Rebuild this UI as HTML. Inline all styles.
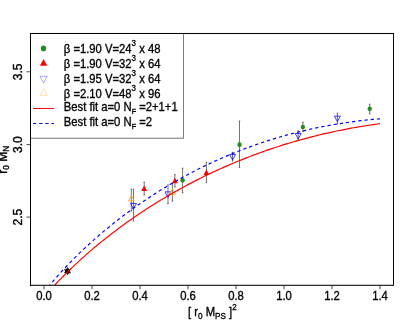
<!DOCTYPE html>
<html><head><meta charset="utf-8"><style>
html,body{margin:0;padding:0;background:#fff;}
svg{display:block;}
text{font-family:"Liberation Sans",sans-serif;font-size:12px;fill:#000;stroke:#000;stroke-width:0.33px;filter:grayscale(1);}
.ax line,.ax rect{stroke:#000;stroke-width:1.05;fill:none;}
.tk line{stroke:#222;stroke-width:0.85;}
.rt{stroke-width:0.38px;}
</style></head><body>
<svg width="409" height="327" viewBox="0 0 409 327">
<rect width="409" height="327" fill="#fff"/>
<defs><clipPath id="c"><rect x="32.52" y="33.5" width="386.99" height="251.8"/></clipPath></defs>
<g transform="scale(0.938,1)">
<g clip-path="url(#c)">
<path d="M139.98,189.2V211M139.18,189.2h1.6M139.18,211h1.6" stroke="#222" stroke-width="0.65" fill="none"/>
<path d="M142.32,189.2V220.8M141.52,189.2h1.6M141.52,220.8h1.6" stroke="#222" stroke-width="0.65" fill="none"/>
<path d="M153.73,182.1V195.0M152.93,182.1h1.6M152.93,195.0h1.6" stroke="#222" stroke-width="0.65" fill="none"/>
<path d="M179.10,184.9V203.6M178.30,184.9h1.6M178.30,203.6h1.6" stroke="#222" stroke-width="0.65" fill="none"/>
<path d="M183.80,183.0V201.1M183.00,183.0h1.6M183.00,201.1h1.6" stroke="#222" stroke-width="0.65" fill="none"/>
<path d="M186.46,174.6V187M185.66,174.6h1.6M185.66,187h1.6" stroke="#222" stroke-width="0.65" fill="none"/>
<path d="M194.67,168.2V192.8M193.87,168.2h1.6M193.87,192.8h1.6" stroke="#222" stroke-width="0.65" fill="none"/>
<path d="M220.04,162.1V182.6M219.24,162.1h1.6M219.24,182.6h1.6" stroke="#222" stroke-width="0.65" fill="none"/>
<path d="M247.87,152.3V161.1M247.07,152.3h1.6M247.07,161.1h1.6" stroke="#222" stroke-width="0.65" fill="none"/>
<path d="M255.33,121V167.4M254.53,121h1.6M254.53,167.4h1.6" stroke="#222" stroke-width="0.65" fill="none"/>
<path d="M317.91,130.9V139.9M317.11,130.9h1.6M317.11,139.9h1.6" stroke="#222" stroke-width="0.65" fill="none"/>
<path d="M322.92,122.1V131.7M322.12,122.1h1.6M322.12,131.7h1.6" stroke="#222" stroke-width="0.65" fill="none"/>
<path d="M359.70,113.2V123.8M358.90,113.2h1.6M358.90,123.8h1.6" stroke="#222" stroke-width="0.65" fill="none"/>
<path d="M394.14,104.2V113.8M393.34,104.2h1.6M393.34,113.8h1.6" stroke="#222" stroke-width="0.65" fill="none"/>
<polygon points="139.98,195.47 136.83,200.93 143.13,200.93" fill="none" stroke="#ffa500" stroke-width="0.8"/>
<polygon points="142.32,208.83 139.17,203.37 145.47,203.37" fill="none" stroke="#0000ff" stroke-width="0.8"/>
<polygon points="153.73,185.47 150.58,190.93 156.88,190.93" fill="#ff0000"/>
<polygon points="179.10,197.33 175.95,191.87 182.25,191.87" fill="none" stroke="#0000ff" stroke-width="0.8"/>
<polygon points="183.80,188.97 180.65,194.43 186.95,194.43" fill="none" stroke="#ffa500" stroke-width="0.8"/>
<polygon points="186.46,177.67 183.31,183.13 189.61,183.13" fill="#ff0000"/>
<circle cx="194.67" cy="180.3" r="2.34" fill="#228B22"/>
<polygon points="220.04,169.57 216.89,175.03 223.19,175.03" fill="#ff0000"/>
<polygon points="247.87,159.93 244.72,154.47 251.02,154.47" fill="none" stroke="#0000ff" stroke-width="0.8"/>
<circle cx="255.33" cy="144.7" r="2.34" fill="#228B22"/>
<polygon points="317.91,138.93 314.76,133.47 321.06,133.47" fill="none" stroke="#0000ff" stroke-width="0.8"/>
<circle cx="322.92" cy="127.0" r="2.34" fill="#228B22"/>
<polygon points="359.70,121.63 356.55,116.17 362.85,116.17" fill="none" stroke="#0000ff" stroke-width="0.8"/>
<circle cx="394.14" cy="108.85" r="2.34" fill="#228B22"/>
<polygon points="71.96,267.56 68.81,273.02 75.11,273.02" fill="#000" stroke="#000" stroke-width="0.6"/><polygon points="71.96,274.84 68.81,269.38 75.11,269.38" fill="#000" stroke="#000" stroke-width="0.6"/>
<path d="M46.91,297.44 L49.47,294.50 L52.03,291.70 L54.58,288.98 L57.14,286.32 L59.70,283.73 L62.26,281.19 L64.82,278.69 L67.38,276.25 L69.94,273.84 L72.49,271.47 L75.05,269.14 L77.61,266.84 L80.17,264.58 L82.73,262.35 L85.29,260.15 L87.85,257.99 L90.41,255.85 L92.96,253.74 L95.52,251.65 L98.08,249.60 L100.64,247.57 L103.20,245.57 L105.76,243.59 L108.32,241.63 L110.87,239.70 L113.43,237.80 L115.99,235.91 L118.55,234.05 L121.11,232.21 L123.67,230.39 L126.23,228.60 L128.78,226.82 L131.34,225.07 L133.90,223.34 L136.46,221.62 L139.02,219.93 L141.58,218.25 L144.14,216.60 L146.70,214.96 L149.25,213.35 L151.81,211.75 L154.37,210.17 L156.93,208.61 L159.49,207.06 L162.05,205.53 L164.61,204.03 L167.16,202.53 L169.72,201.06 L172.28,199.60 L174.84,198.16 L177.40,196.74 L179.96,195.33 L182.52,193.94 L185.07,192.56 L187.63,191.20 L190.19,189.86 L192.75,188.53 L195.31,187.22 L197.87,185.92 L200.43,184.64 L202.99,183.37 L205.54,182.12 L208.10,180.88 L210.66,179.66 L213.22,178.45 L215.78,177.26 L218.34,176.08 L220.90,174.92 L223.45,173.77 L226.01,172.63 L228.57,171.51 L231.13,170.40 L233.69,169.31 L236.25,168.22 L238.81,167.16 L241.36,166.10 L243.92,165.07 L246.48,164.04 L249.04,163.03 L251.60,162.03 L254.16,161.04 L256.72,160.07 L259.28,159.10 L261.83,158.16 L264.39,157.22 L266.95,156.30 L269.51,155.39 L272.07,154.49 L274.63,153.61 L277.19,152.73 L279.74,151.87 L282.30,151.03 L284.86,150.19 L287.42,149.37 L289.98,148.56 L292.54,147.76 L295.10,146.97 L297.65,146.20 L300.21,145.43 L302.77,144.68 L305.33,143.94 L307.89,143.21 L310.45,142.50 L313.01,141.79 L315.57,141.10 L318.12,140.42 L320.68,139.74 L323.24,139.09 L325.80,138.44 L328.36,137.80 L330.92,137.17 L333.48,136.56 L336.03,135.96 L338.59,135.36 L341.15,134.78 L343.71,134.21 L346.27,133.65 L348.83,133.10 L351.39,132.57 L353.94,132.04 L356.50,131.52 L359.06,131.02 L361.62,130.52 L364.18,130.04 L366.74,129.56 L369.30,129.10 L371.86,128.65 L374.41,128.20 L376.97,127.77 L379.53,127.35 L382.09,126.94 L384.65,126.53 L387.21,126.14 L389.77,125.76 L392.32,125.39 L394.88,125.03 L397.44,124.68 L400.00,124.34 L402.56,124.01 L405.12,123.69" fill="none" stroke="#ff0000" stroke-width="1.2"/>
<path d="M46.91,292.54 L49.47,289.37 L52.03,286.35 L54.58,283.43 L57.14,280.58 L59.70,277.80 L62.26,275.08 L64.82,272.41 L67.38,269.79 L69.94,267.23 L72.49,264.70 L75.05,262.22 L77.61,259.78 L80.17,257.38 L82.73,255.01 L85.29,252.68 L87.85,250.38 L90.41,248.12 L92.96,245.89 L95.52,243.69 L98.08,241.53 L100.64,239.39 L103.20,237.28 L105.76,235.20 L108.32,233.15 L110.87,231.12 L113.43,229.12 L115.99,227.15 L118.55,225.20 L121.11,223.28 L123.67,221.38 L126.23,219.51 L128.78,217.66 L131.34,215.84 L133.90,214.04 L136.46,212.26 L139.02,210.50 L141.58,208.77 L144.14,207.06 L146.70,205.37 L149.25,203.70 L151.81,202.05 L154.37,200.42 L156.93,198.82 L159.49,197.23 L162.05,195.66 L164.61,194.12 L167.16,192.59 L169.72,191.09 L172.28,189.60 L174.84,188.13 L177.40,186.68 L179.96,185.25 L182.52,183.84 L185.07,182.44 L187.63,181.07 L190.19,179.71 L192.75,178.37 L195.31,177.05 L197.87,175.74 L200.43,174.45 L202.99,173.18 L205.54,171.93 L208.10,170.69 L210.66,169.48 L213.22,168.27 L215.78,167.09 L218.34,165.92 L220.90,164.76 L223.45,163.63 L226.01,162.51 L228.57,161.40 L231.13,160.31 L233.69,159.24 L236.25,158.18 L238.81,157.14 L241.36,156.11 L243.92,155.10 L246.48,154.10 L249.04,153.12 L251.60,152.15 L254.16,151.20 L256.72,150.27 L259.28,149.34 L261.83,148.44 L264.39,147.54 L266.95,146.67 L269.51,145.80 L272.07,144.95 L274.63,144.12 L277.19,143.30 L279.74,142.49 L282.30,141.70 L284.86,140.92 L287.42,140.15 L289.98,139.40 L292.54,138.66 L295.10,137.94 L297.65,137.23 L300.21,136.53 L302.77,135.85 L305.33,135.18 L307.89,134.52 L310.45,133.87 L313.01,133.24 L315.57,132.63 L318.12,132.02 L320.68,131.43 L323.24,130.85 L325.80,130.29 L328.36,129.73 L330.92,129.19 L333.48,128.66 L336.03,128.15 L338.59,127.65 L341.15,127.16 L343.71,126.68 L346.27,126.21 L348.83,125.76 L351.39,125.32 L353.94,124.89 L356.50,124.48 L359.06,124.07 L361.62,123.68 L364.18,123.30 L366.74,122.93 L369.30,122.58 L371.86,122.23 L374.41,121.90 L376.97,121.58 L379.53,121.27 L382.09,120.97 L384.65,120.69 L387.21,120.41 L389.77,120.15 L392.32,119.90 L394.88,119.66 L397.44,119.43 L400.00,119.22 L402.56,119.01 L405.12,118.82" fill="none" stroke="#0000ff" stroke-width="1.2" stroke-dasharray="3.45,3.185" stroke-dashoffset="6.26"/>
</g>
<g class="ax">
<rect x="32.52" y="33.5" width="386.99" height="251.8"/>
</g>
<g class="tk"><line x1="46.91" y1="285.3" x2="46.91" y2="289.3"/><line x1="98.08" y1="285.3" x2="98.08" y2="289.3"/><line x1="149.25" y1="285.3" x2="149.25" y2="289.3"/><line x1="200.43" y1="285.3" x2="200.43" y2="289.3"/><line x1="251.60" y1="285.3" x2="251.60" y2="289.3"/><line x1="302.77" y1="285.3" x2="302.77" y2="289.3"/><line x1="353.94" y1="285.3" x2="353.94" y2="289.3"/><line x1="405.12" y1="285.3" x2="405.12" y2="289.3"/><line x1="28.25" y1="217.1" x2="32.52" y2="217.1"/><line x1="28.25" y1="144.6" x2="32.52" y2="144.6"/><line x1="28.25" y1="71.8" x2="32.52" y2="71.8"/></g>
<text x="46.91" y="300.4" text-anchor="middle">0.0</text><text x="98.08" y="300.4" text-anchor="middle">0.2</text><text x="149.25" y="300.4" text-anchor="middle">0.4</text><text x="200.43" y="300.4" text-anchor="middle">0.6</text><text x="251.60" y="300.4" text-anchor="middle">0.8</text><text x="302.77" y="300.4" text-anchor="middle">1.0</text><text x="353.94" y="300.4" text-anchor="middle">1.2</text><text x="405.12" y="300.4" text-anchor="middle">1.4</text><text transform="translate(23.67,217.1) scale(1.0661,1) rotate(-90)" class="rt" font-size="12.3" text-anchor="middle">2.5</text><text transform="translate(23.67,144.6) scale(1.0661,1) rotate(-90)" class="rt" font-size="12.3" text-anchor="middle">3.0</text><text transform="translate(23.67,71.8) scale(1.0661,1) rotate(-90)" class="rt" font-size="12.3" text-anchor="middle">3.5</text>
<!-- legend -->
<rect x="32.52" y="33.5" width="163.11" height="104.7" fill="#fff" stroke="#666" stroke-width="0.9"/>
<g class="ax"><line x1="32.52" y1="33" x2="32.52" y2="286"/><line x1="32.02" y1="33.5" x2="420.01" y2="33.5"/></g>
<circle cx="46.38" cy="48.4" r="2.85" fill="#228B22"/>
<polygon points="46.38,59.07 42.54,65.72 50.22,65.72" fill="#ff0000"/>
<polygon points="46.48,82.93 42.64,76.28 50.32,76.28" fill="none" stroke="#0000ff" stroke-width="0.5" opacity="0.7"/>
<polygon points="46.59,88.67 42.75,95.32 50.43,95.32" fill="none" stroke="#ffa500" stroke-width="0.5" opacity="0.7"/>
<line x1="35.18" y1="108.5" x2="57.57" y2="108.5" stroke="#ff0000" stroke-width="1"/>
<line x1="35.18" y1="123.5" x2="57.57" y2="123.5" stroke="#0000ff" stroke-width="1" stroke-dasharray="3.5,3.05"/>
<text x="68.02" y="53.2">β =1.90 V=24<tspan dy="-6.9" font-size="8.5">3</tspan><tspan dy="6.9"> x 48</tspan></text>
<text x="68.02" y="68.1">β =1.90 V=32<tspan dy="-6.9" font-size="8.5">3</tspan><tspan dy="6.9"> x 64</tspan></text>
<text x="68.02" y="83.0">β =1.95 V=32<tspan dy="-6.9" font-size="8.5">3</tspan><tspan dy="6.9"> x 64</tspan></text>
<text x="68.02" y="97.9">β =2.10 V=48<tspan dy="-6.9" font-size="8.5">3</tspan><tspan dy="6.9"> x 96</tspan></text>
<text x="68.02" y="111.2">Best fit a=0 N<tspan dy="2.5" font-size="7.7">F</tspan><tspan dy="-2.5"> =2+1+1</tspan></text>
<text x="68.02" y="126.4">Best fit a=0 N<tspan dy="2.5" font-size="7.7">F</tspan><tspan dy="-2.5"> =2</tspan></text>
<!-- axis titles -->
<text x="200.43" y="316.5">[ r<tspan dy="2.5" font-size="8.7">0</tspan><tspan dy="-2.5"> M</tspan><tspan dy="2.5" font-size="8.7">PS</tspan><tspan dy="-2.5"> ]</tspan><tspan dy="-6.9" font-size="8.5">2</tspan></text>
<text transform="translate(6.93,173.7) scale(1.0661,1) rotate(-90)" class="rt" font-size="12">r<tspan dy="2.5" font-size="8.3">0</tspan><tspan dy="-2.5"> M</tspan><tspan dy="2.5" font-size="8.3">N</tspan></text>
</g>
</svg>
</body></html>
